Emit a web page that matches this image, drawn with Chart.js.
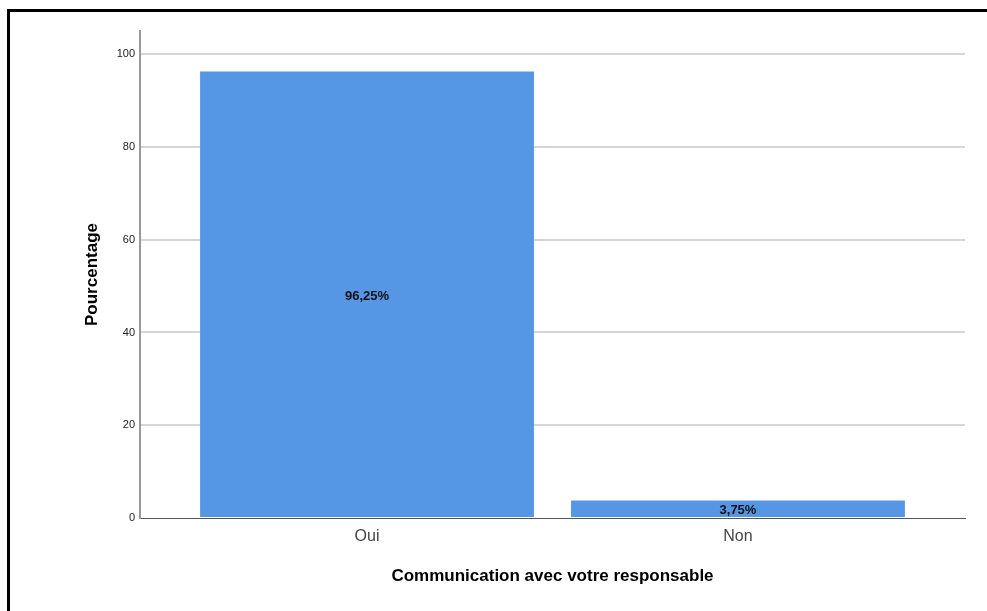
<!DOCTYPE html>
<html>
<head>
<meta charset="utf-8">
<script src="https://cdn.jsdelivr.net/npm/chart.js@4/dist/chart.umd.min.js"></script>
<style>
html,body{margin:0;padding:0;background:#fff;overflow:hidden;}
#wrap{position:absolute;left:0;top:0;width:987px;height:611px;}
#frame{position:absolute;left:7px;top:9px;width:1000px;height:700px;border:3px solid #000;box-sizing:border-box;pointer-events:none;}
canvas{position:absolute;left:0;top:0;}
</style>
</head>
<body>
<div id="wrap">
<canvas id="c" width="987" height="611"></canvas>
<div id="frame"></div>
</div>
<script>
const categories = ["Oui", "Non"];
const percentages = [96.25, 3.75];
const valueLabels = ["96,25%", "3,75%"];
const yTicks = [0, 20, 40, 60, 80, 100];
const xTitle = "Communication avec votre responsable";
const yTitle = "Pourcentage";

const FONT = "'Liberation Sans', Arial, sans-serif";

const barLabelPlugin = {
  id: 'barLabels',
  afterDatasetsDraw(chart) {
    const ctx = chart.ctx;
    const meta = chart.getDatasetMeta(0);
    ctx.save();
    ctx.font = "bold 13px " + FONT;
    ctx.fillStyle = "#111";
    ctx.textAlign = "center";
    ctx.textBaseline = "middle";
    meta.data.forEach((bar, i) => {
      const p = bar.getProps(['x', 'y', 'base'], true);
      ctx.fillText(valueLabels[i], p.x, (p.y + p.base) / 2 + 2);
    });
    ctx.restore();
  }
};

new Chart(document.getElementById('c'), {
  type: 'bar',
  data: {
    datasets: [{
      data: categories.map((c, i) => ({ x: i, y: percentages[i] })),
      backgroundColor: '#5596e5',
      borderWidth: 0,
      barPercentage: 0.9,
      categoryPercentage: 1.0
    }]
  },
  options: {
    responsive: false,
    animation: false,
    events: [],
    layout: { padding: { left: 78, right: 22, top: 31, bottom: 20 } },
    plugins: { legend: { display: false }, tooltip: { enabled: false } },
    scales: {
      x: {
        type: 'linear',
        offset: false,
        min: -0.612,
        max: 1.612,
        afterBuildTicks(scale) { scale.ticks = categories.map((c, i) => ({ value: i })); },
        afterFit(scale) { scale.height = 73; },
        grid: { display: false, drawTicks: false, offset: false },
        border: { display: true, color: '#555', width: 1 },
        ticks: {
          padding: 9,
          color: '#444',
          font: { family: FONT, size: 16 },
          callback: (v) => categories[v]
        },
        title: {
          display: true,
          text: xTitle,
          color: '#000',
          font: { family: FONT, size: 17, weight: 'bold' },
          padding: { top: 4, bottom: 4 }
        }
      },
      y: {
        min: 0,
        max: 105,
        afterBuildTicks(scale) { scale.ticks = yTicks.map(v => ({ value: v })); },
        afterFit(scale) { scale.width = 62; },
        grid: {
          color: (ctx) => ctx.tick && ctx.tick.value === 0 ? 'rgba(0,0,0,0)' : '#d6d6d6',
          lineWidth: 2,
          drawTicks: false
        },
        border: { display: true, color: '#999', width: 2 },
        ticks: {
          padding: 5,
          color: '#222',
          font: { family: FONT, size: 11 }
        },
        title: {
          display: true,
          text: yTitle,
          color: '#000',
          font: { family: FONT, size: 17, weight: 'bold' },
          padding: { top: 4, bottom: 4 }
        }
      }
    }
  },
  plugins: [barLabelPlugin]
});
</script>
</body>
</html>
